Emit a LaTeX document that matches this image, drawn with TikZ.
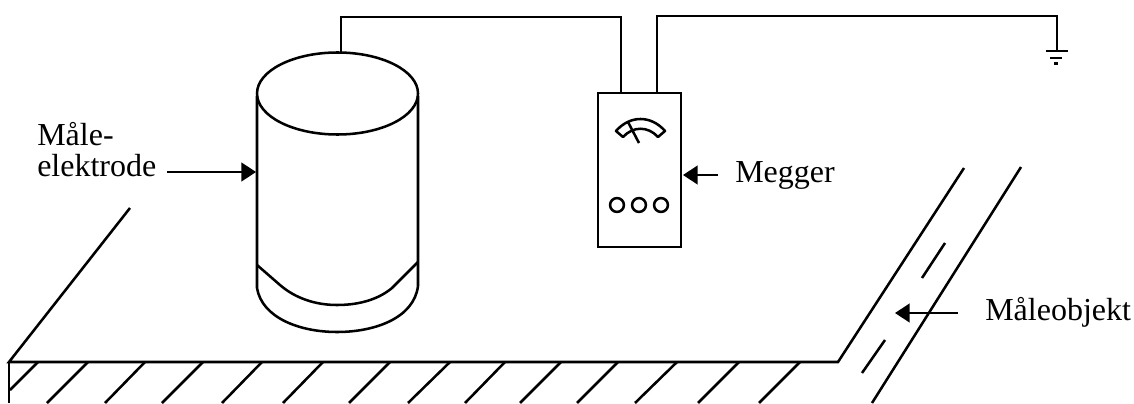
\documentclass[tikz,border=0pt]{standalone}
\usepackage{fontspec}
\setmainfont{Liberation Serif}
\usetikzlibrary{arrows.meta,shapes.geometric}
\tikzset{
  wire/.style={line width=1.9pt},
  label/.style={anchor=base west, inner sep=0pt, font=\fontsize{24}{24}\selectfont},
  pointer/.style={line width=1.9pt, ->},
}
\begin{document}
\begin{tikzpicture}[x=0.75pt, y=-0.75pt, >={Triangle[length=11pt,width=14pt]}]
  \useasboundingbox (0,0) rectangle (1134,403);

  % ground plate
  \coordinate (G1) at (9,362);
  \coordinate (G2) at (838,362);
  \coordinate (G3) at (9,403);
  \coordinate (G4) at (130,208);
  \coordinate (G5) at (964,168);
  \draw[wire, line join=miter] (G4) -- (G1) -- (G2) -- (G5);
  \draw[wire] (G1) -- (G3);
  \draw[wire] (38,362) -- (10,390);
  \foreach \t/\b in {88/47, 145/105, 203/162, 262/222, 323/283, 390/349, 450/408,
                     505/465, 561/520, 618/577, 677/635, 739/698, 800/759}
    \draw[wire] (\t,362) -- (\b,403);

  % measured object, far edge and middle dashes
  \draw[wire] (1021,167) -- (872,403);
  \draw[wire] (945,243) -- (922,278);
  \draw[wire] (885,340) -- (862,373);

  % electrode
  \node[draw, wire, ellipse, minimum width=120.75pt, minimum height=61.5pt, inner sep=0pt] (top) at (337.5,93.5) {};
  \coordinate (L1) at (257,96);
  \coordinate (L2) at (257,288);
  \coordinate (R1) at (418,96);
  \coordinate (R2) at (418,286);
  \draw[wire] (L1) -- (L2)
    .. controls (262,318) and (300,332) .. (337,332)
    .. controls (375,332) and (414,318) .. (R2) -- (R1);
  \draw[wire] (257,265) -- (280,285)
    .. controls (295,298) and (315,305) .. (337,305)
    .. controls (362,305) and (380,298) .. (392,288) -- (418,262);

  % megger
  \node[draw, wire, minimum width=62.25pt, minimum height=115.5pt, inner sep=0pt] (megger) at (639.5,170) {};
  \draw[wire, line join=round] (616,131) .. controls (630,115) and (651,115) .. (665,131)
    -- (658,137) .. controls (648,126) and (633,126) .. (623,137) -- cycle;
  \draw[wire] (628,122) -- (639,143);
  \foreach \x in {617,639,661}
    \draw[wire] (\x,205) circle (5.2pt);

  % leads
  \coordinate (P1) at (341,53);
  \coordinate (P2) at (621,93);
  \coordinate (P3) at (657,93);
  \coordinate (E) at (1057,51);
  \draw[wire] (P1) -- (341,17) -- (621,17) -- (P2);
  \draw[wire] (P3) -- (657,16) -- (1057,16) -- (E);
  \draw[wire] (1046,51) -- (1068,51);
  \draw[wire] (1050,58) -- (1062,58);
  \draw[wire] (1054,63.5) -- (1058,63.5);

  % labels
  \node[label] (male) at (37,145) {Måle-};
  \node[label] (elektrode) at (37,176) {elektrode};
  \node[label] (mg) at (735,182) {Megger};
  \node[label] (obj) at (985,320) {Måleobjekt};

  \draw[pointer] (167,172) -- (256,172);
  \draw[pointer] (718,175) -- (683,175);
  \draw[pointer] (958,313) -- (895,313);
\end{tikzpicture}
\end{document}
